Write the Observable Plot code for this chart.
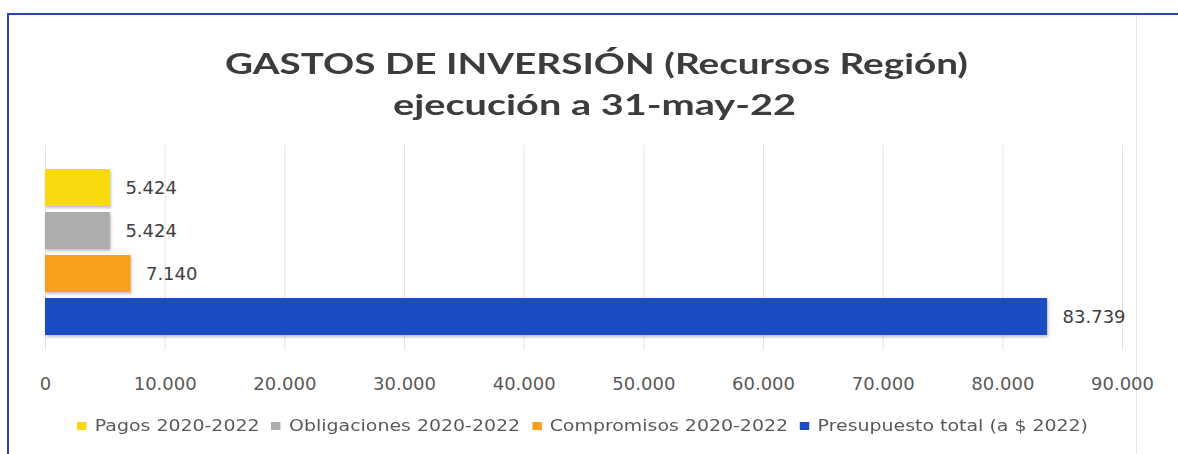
<!DOCTYPE html>
<html><head><meta charset="utf-8">
<script src="https://cdn.jsdelivr.net/npm/d3@7"></script>
<script src="https://cdn.jsdelivr.net/npm/@observablehq/plot@0.6"></script>
<style>
html,body{margin:0;padding:0;background:#fff;}
#wrap{position:relative;width:1178px;height:454px;overflow:hidden;background:#fff;}
#frame{position:absolute;left:7px;top:13px;right:-5px;bottom:-5px;border-left:2px solid #2A45B0;border-top:2px solid #2A45B0;}
#rline{position:absolute;left:1136px;top:15px;bottom:0;width:1px;background:#e6e6e6;}
.ttl{position:absolute;white-space:nowrap;font-family:Lato;font-weight:bold;font-size:28px;line-height:28px;color:#3c3c3c;transform-origin:0 0;}
#chart{position:absolute;left:0;top:140px;}
#legend{position:absolute;top:417px;left:77px;display:flex;align-items:center;white-space:nowrap;font-family:"DejaVu Sans";font-size:16px;line-height:18px;color:#595959;transform-origin:0 50%;}
.item{display:flex;align-items:center;margin-right:10px;}
.item:last-child{margin-right:0;}
.sw{width:8px;height:8px;margin-right:7px;flex:none;}
#chart g[aria-label="bar"] rect{filter:drop-shadow(1px 2px 1.5px rgba(0,0,0,0.25));}
</style></head>
<body><div id="wrap">
<div id="frame"></div>
<div id="rline"></div>
<div id="t1" class="ttl"></div>
<div id="t2" class="ttl"></div>
<div id="chart"></div>
<div id="legend"></div>
</div>
<script>
const categorias = ["Pagos 2020-2022", "Obligaciones 2020-2022", "Compromisos 2020-2022", "Presupuesto total (a $ 2022)"];
const valores = [5424, 5424, 7140, 83739];
const colores = ["#F9DA0E", "#ADADAD", "#F99F1E", "#1A4DC4"];
const ticksX = [0, 10000, 20000, 30000, 40000, 50000, 60000, 70000, 80000, 90000];
const titulo = "GASTOS DE INVERSIÓN (Recursos Región)";
const subtitulo = "ejecución a 31-may-22";

const loc = d3.formatLocale({decimal: ",", thousands: ".", grouping: [3], currency: ["$", ""]});
const fmt = loc.format(",d");

const data = categorias.map((c, i) => ({cat: c, valor: valores[i]}));

// titles, stretched to the reference widths
function placeTitle(el, text, center, top, targetW) {
  el.textContent = text;
  el.style.top = top + "px";
  const w = el.getBoundingClientRect().width;
  el.style.left = (center - targetW / 2) + "px";
  el.style.transform = `scaleX(${targetW / w})`;
}
placeTitle(document.getElementById("t1"), titulo, 596, 49, 743);
placeTitle(document.getElementById("t2"), subtitulo, 594, 90, 403);

const chart = Plot.plot({
  width: 1178,
  height: 260,
  marginLeft: 45,
  marginRight: 56,
  marginTop: 5,
  marginBottom: 50,
  style: {fontFamily: "DejaVu Sans", fontSize: "18px", background: "transparent", overflow: "visible"},
  x: {domain: [0, 90000], axis: null},
  y: {domain: categorias, range: [25.3, 198.7], paddingInner: 0.14, paddingOuter: 0.07, axis: null},
  color: {domain: categorias, range: colores},
  marks: [
    Plot.ruleX(ticksX, {stroke: "#e4e4e4", strokeWidth: 1}),
    Plot.barX(data, {x: "valor", y: "cat", fill: "cat"}),
    Plot.text(data, {x: "valor", y: "cat", text: d => fmt(d.valor), textAnchor: "start", dx: 15, fill: "#404040"}),
    Plot.axisX(ticksX, {tickFormat: fmt, tickSize: 0, tickPadding: 27, stroke: "none", fill: "#595959", label: null})
  ]
});
document.getElementById("chart").appendChild(chart);

// legend
const lg = document.getElementById("legend");
categorias.forEach((c, i) => {
  const it = document.createElement("div");
  it.className = "item";
  const sw = document.createElement("div");
  sw.className = "sw";
  sw.style.background = colores[i];
  const tx = document.createElement("span");
  tx.textContent = c;
  it.appendChild(sw);
  it.appendChild(tx);
  lg.appendChild(it);
});
const lw = lg.getBoundingClientRect().width;
lg.style.transform = `scaleX(${1011 / lw})`;
</script>
</body></html>
